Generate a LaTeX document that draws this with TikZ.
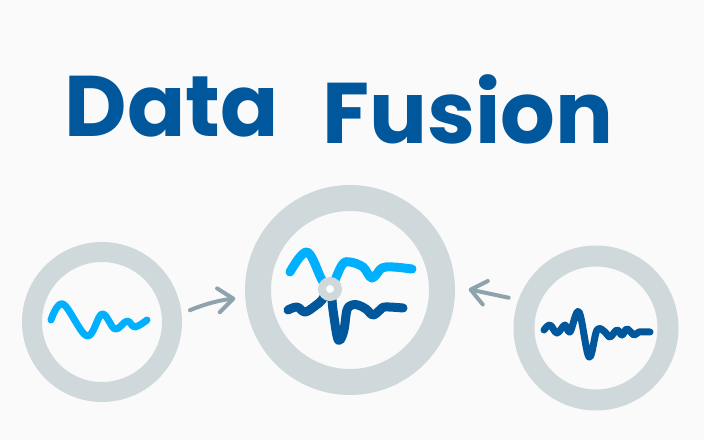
\documentclass[tikz,border=0pt]{standalone}
\usepackage{fontspec}
\setmainfont{Poppins}
\usepackage{tikz}
\definecolor{paper}{rgb}{0.98,0.98,0.98}
\definecolor{ringgrey}{rgb}{0.81,0.85,0.86}
\definecolor{arrowgrey}{rgb}{0.56,0.64,0.68}
\definecolor{lightwave}{rgb}{0.0,0.69,1.0}
\definecolor{darkwave}{rgb}{0.0,0.34,0.61}
\usetikzlibrary{arrows.meta}
\usetikzlibrary{positioning}

\begin{document}
\begin{tikzpicture}[x=1pt,y=1pt,
  ring/.style={circle,draw=ringgrey,inner sep=0pt},
  wave/.style={line cap=round,line join=round},
  flow/.style={draw=arrowgrey,line width=4pt,line cap=round,-{Straight Barb[length=15pt,width=24pt,round]}},
  title/.style={text=darkwave,font=\fontsize{86}{86}\selectfont\bfseries,anchor=base,inner sep=0pt}]
\fill[paper] (0,0) rectangle (704,440);
\useasboundingbox (0,0) rectangle (704,440);

\node[title] (data) at (172,304) {Data};
\node[title] (fusion) at (468,297) {Fusion};

\node[ring,line width=20pt,minimum size=140pt] (src1) at (102,118) {};
\node[ring,line width=26pt,minimum size=184pt] (fused) at (350,150) {};
\node[ring,line width=21pt,minimum size=144pt] (src2) at (596,112) {};

  \draw[wave,lightwave,line width=7pt] plot[smooth,tension=0.6] coordinates {(51,120) (63,136) (87,104) (102,126) (115,111) (127,119) (135,113) (147,120)};
  \draw[wave,lightwave,line width=9pt] plot[smooth,tension=0.6] coordinates {(290,168) (307,188) (322,160) (330,151) (342,175) (350,178) (363,173) (372,162) (382,172) (393,173) (412,171)};
  \draw[wave,darkwave,line width=9pt] plot[smooth,tension=0.6] coordinates {(288,130) (297,133) (305,128) (315,134) (322,140) (330,151) (333,130) (337,104) (340,100) (344,110) (347,130) (352,135) (358,135) (366,131) (373,125) (380,130) (385,133) (403,132)};
  \draw[wave,darkwave,line width=7pt] plot[smooth,tension=0.6] coordinates {(544,110) (550,115) (557,107) (565,115) (570,108) (579,128) (589,83) (597,110) (605,108) (610,103) (617,110) (622,105) (627,111) (634,105) (639,108) (650,108)};

\node[circle,draw=ringgrey,fill=white,line width=8pt,minimum size=16pt,inner sep=0pt] (fusept) at (330,151) {};

  \draw[flow,shorten <=9pt,shorten >=10pt] (src1.6) to[bend left=8] (fused.184);
  \draw[flow,shorten <=10pt,shorten >=14pt] (src2.160) to (fused.2);
\end{tikzpicture}
\end{document}
